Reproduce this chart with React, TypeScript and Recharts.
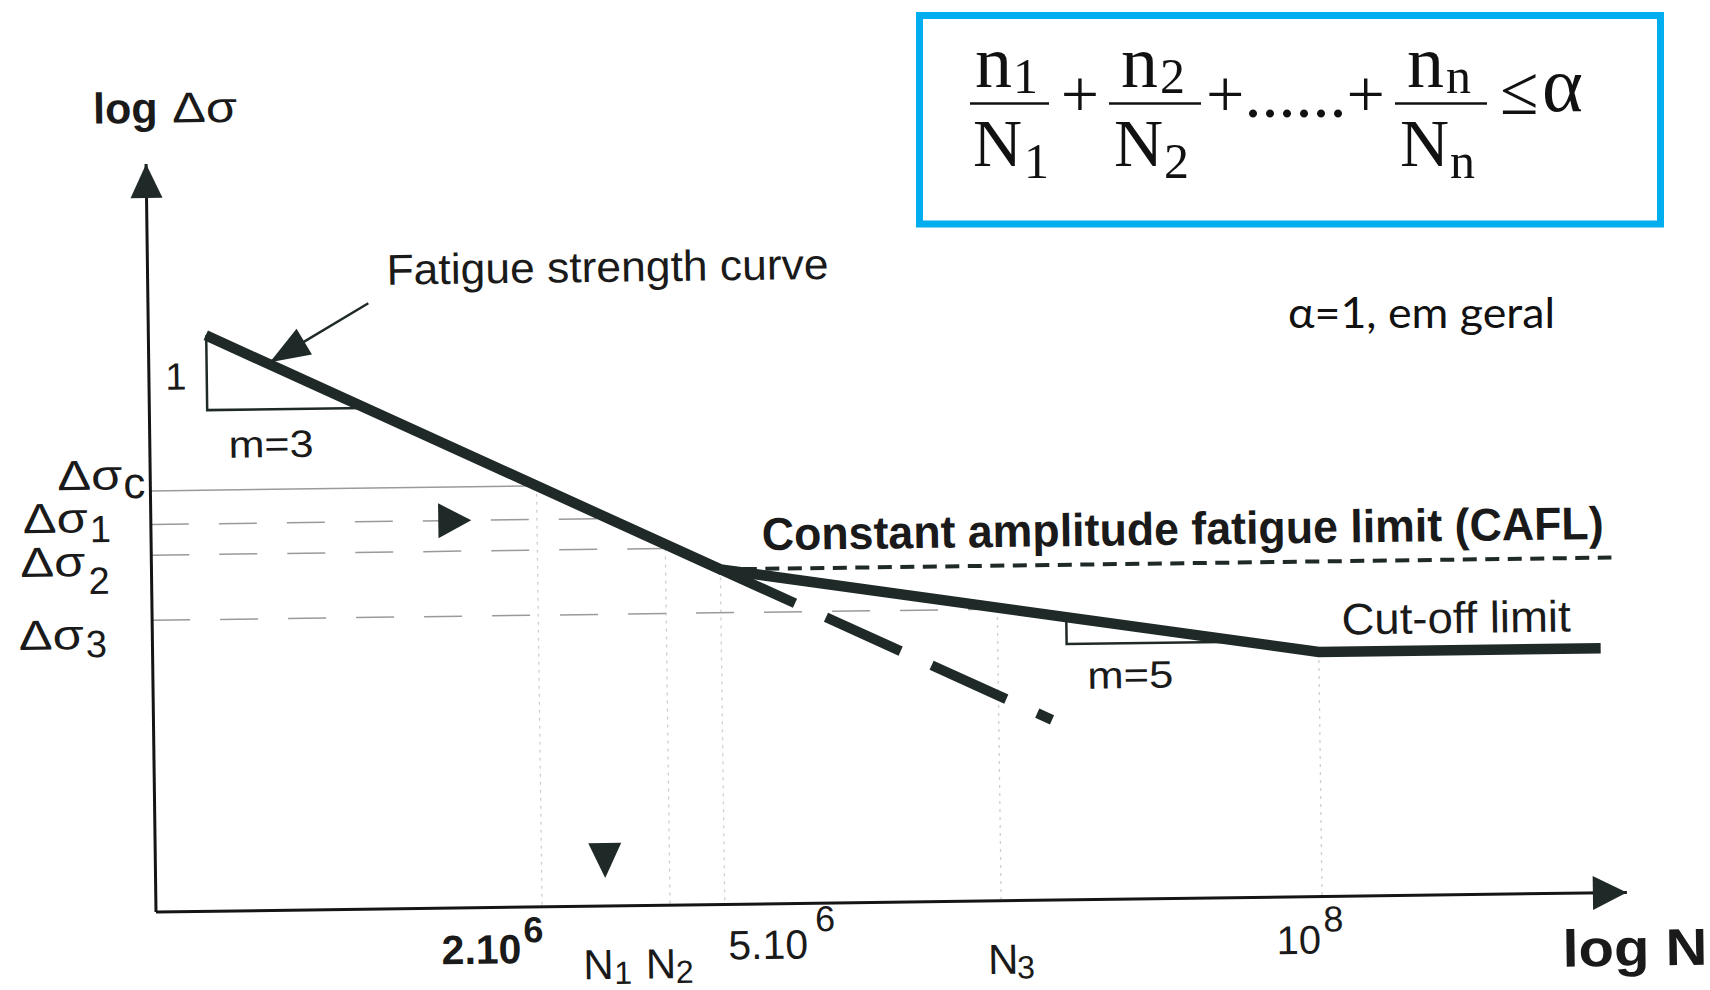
import { ComposedChart, Line, Scatter, XAxis, YAxis, ReferenceDot } from 'recharts';

const W = 1710;
const H = 990;
const INK = '#1f2a28';
const TXT = '#1a1a1a';
const GRID = '#9a9a9a';
const FAINT = '#cfcfcf';
const SANS = '"Liberation Sans", Arial, Helvetica, sans-serif';
const SERIF = '"Liberation Serif", "Times New Roman", serif';

// x: log10 N, y: schematic log Δσ position (0 = N axis, 100 = arrow tip)
const X_DOMAIN = [5.46, 8.664];
const Y_DOMAIN = [0, 100];
const MARGIN = { top: 164, right: 83, bottom: 0, left: 0 };
const Y_AXIS_W = 156;
const X_AXIS_H = 78;
const PX_X = (W - Y_AXIS_W - MARGIN.right) / (X_DOMAIN[1] - X_DOMAIN[0]);
const PX_Y = (H - MARGIN.top - X_AXIS_H) / (Y_DOMAIN[1] - Y_DOMAIN[0]);

// cycle counts
const N_D = 2e6;
const N_1 = 2.75e6;
const N_2 = 3.8e6;
const N_C = 5e6;
const N_3 = 2.0e7;
const N_L = 1e8;
const lg = Math.log10;

// fatigue strength curve: m=3 down to 5.10^6, m=5 to 10^8, then cut-off
const curveX = [5.585, lg(N_C), lg(N_L), 8.614];
const curveY = [77.0, 44.8, 32.7, 32.7];
// m=3 line continued past the knee
const extX = [lg(N_C), 7.417];
const extY = [44.8, 24.1];
// constant amplitude fatigue limit
const caflX = [lg(N_C), 8.64];
const caflY = [44.8, 44.8];

// stress ranges Δσc, Δσ1, Δσ2, Δσ3
const levelNames = ['c', '1', '2', '3'];
const levelY = [56.3, 51.8, 47.7, 39.0];
const levelEndX = [lg(N_D), lg(N_1), lg(N_2), lg(N_3)];

// faint vertical guides
const guideX = [lg(N_D), lg(N_2), lg(N_C), lg(N_3), lg(N_L)];
const guideTop = [56.3, 47.7, 44.8, 39.0, 32.7];

// slope triangles
const tri3X = [5.586, 5.586, 5.93];
const tri3Y = [77.0, 67.0, 67.0];
const tri5X = [7.451, 7.451, 7.79];
const tri5Y = [37.8, 34.2, 34.2];

// pointer to the curve
const pointerX = [5.94, 5.724];
const pointerY = [81.0, 73.3];

// triangle markers
const stepMarker = [{ x: 6.122, y: 51.8 }];
const nMarker = [{ x: lg(N_1), y: 6.1 }];

// axis ticks
const xTicks = [N_D, N_1, N_2, N_C, N_3, N_L].map(lg);
const xTickMain = ['2.10', 'N', 'N', '5.10', 'N', '10'];
const xTickExtra = ['6', '1', '2', '6', '3', '8'];

const pts = (xs: number[], ys: number[]) => xs.map((x, i) => ({ x, y: ys[i] }));

// label placement (pixels relative to tick)
const xTickLayout = [
  { mx: -101, my: 56, mf: 41, bold: true, sx: -19, sy: 35, sf: 36 },
  { mx: -23, my: 73, mf: 42, bold: false, sx: 8, sy: 78, sf: 32 },
  { mx: -25, my: 73, mf: 42, bold: false, sx: 5, sy: 78, sf: 32 },
  { mx: 3, my: 55, mf: 41, bold: false, sx: 90, sy: 28, sf: 36 },
  { mx: -14, my: 73, mf: 42, bold: false, sx: 15, sy: 78, sf: 32 },
  { mx: -46, my: 57, mf: 40, bold: false, sx: 1, sy: 35, sf: 36 },
];

const yTickLayout = [
  { mx: -93, my: -2, sx: -27, sy: 7, sf: 44 },
  { mx: -128, my: 7, sx: -61, sy: 17, sf: 38 },
  { mx: -131, my: 20, sx: -63, sy: 38, sf: 38 },
  { mx: -133.5, my: 28, sx: -66.5, sy: 36, sf: 38 },
];

const notes = [
  { text: 'Fatigue strength curve', x: 6.462, y: 83.45, size: 43, width: 442, bold: false },
  { text: '1', x: 5.519, y: 69.8, size: 38, width: 0, bold: false },
  { text: 'm=3', x: 5.724, y: 60.6, size: 38, width: 85, bold: false },
  { text: 'Constant amplitude fatigue limit (CAFL)', x: 7.707, y: 47.3, size: 46, width: 842, bold: true },
  { text: 'Cut-off limit', x: 8.3, y: 35.0, size: 44, width: 229, bold: false },
  { text: 'm=5', x: 7.589, y: 28.2, size: 38, width: 86, bold: false },
  { text: 'log N', x: 8.68, y: -9.8, size: 52, width: 145, bold: true },
];

function triPoints(cx: number, cy: number, angleDeg: number, len: number, half: number, tip: boolean) {
  const a = (angleDeg * Math.PI) / 180;
  const ux = Math.cos(a);
  const uy = Math.sin(a);
  const tx = tip ? cx : cx + (ux * len) / 2;
  const ty = tip ? cy : cy + (uy * len) / 2;
  const bx = tx - ux * len;
  const by = ty - uy * len;
  return `${tx},${ty} ${bx - uy * half},${by + ux * half} ${bx + uy * half},${by - ux * half}`;
}

const pointerAngle =
  (Math.atan2((pointerY[0] - pointerY[1]) * PX_Y, (pointerX[1] - pointerX[0]) * PX_X) * 180) / Math.PI;

function XTick(props: any) {
  const { x, y, payload } = props;
  const i = xTicks.findIndex((t) => Math.abs(t - payload.value) < 1e-9);
  if (i < 0) return <g />;
  const L = xTickLayout[i];
  return (
    <text fill={TXT} fontFamily={SANS} fontWeight={L.bold ? 700 : 400}>
      <tspan x={x + L.mx} y={y + L.my} fontSize={L.mf}>
        {xTickMain[i]}
      </tspan>
      <tspan x={x + L.sx} y={y + L.sy} fontSize={L.sf}>
        {xTickExtra[i]}
      </tspan>
    </text>
  );
}

function YTick(props: any) {
  const { x, y, payload } = props;
  const i = levelY.indexOf(payload.value);
  if (i < 0) return <g />;
  const L = yTickLayout[i];
  return (
    <text fill={TXT} fontFamily={SANS}>
      <tspan x={x + L.mx} y={y + L.my} fontSize={42} textLength={65} lengthAdjust="spacingAndGlyphs">
        Δσ
      </tspan>
      <tspan x={x + L.sx} y={y + L.sy} fontSize={L.sf}>
        {levelNames[i]}
      </tspan>
    </text>
  );
}

const thin = { dot: false, activeDot: false, isAnimationActive: false, legendType: 'none' as const };

export default function App() {
  return (
    <div style={{ position: 'relative', width: W, height: H, overflow: 'hidden', background: '#fff' }}>
      <style>{'body{margin:0;overflow:hidden}.recharts-surface{overflow:visible}'}</style>
      <div style={{ position: 'absolute', left: 0, top: 0, transform: 'rotate(-0.76deg)', transformOrigin: '156px 912px' }}>
        <ComposedChart width={W} height={H} margin={MARGIN}>
          <XAxis
            type="number"
            dataKey="x"
            domain={X_DOMAIN}
            ticks={xTicks}
            interval={0}
            tick={<XTick />}
            tickLine={false}
            tickSize={0}
            tickMargin={0}
            height={X_AXIS_H}
            axisLine={{ stroke: '#151515', strokeWidth: 3 }}
          />
          <YAxis
            type="number"
            dataKey="y"
            domain={Y_DOMAIN}
            ticks={levelY}
            interval={0}
            tick={<YTick />}
            tickLine={false}
            tickSize={0}
            tickMargin={0}
            width={Y_AXIS_W}
            axisLine={{ stroke: '#151515', strokeWidth: 3 }}
          />

          {guideX.map((gx, i) => (
            <Line key={'g' + i} {...thin} data={pts([gx, gx], [guideTop[i], 0])} dataKey="y" stroke={FAINT} strokeWidth={1.3} strokeDasharray="3 5" />
          ))}
          {levelY.map((ly, i) => (
            <Line
              key={'l' + i}
              {...thin}
              data={pts([X_DOMAIN[0], levelEndX[i]], [ly, ly])}
              dataKey="y"
              stroke={GRID}
              strokeWidth={1.5}
              strokeDasharray={i === 0 ? undefined : '38 30'}
            />
          ))}

          <Line {...thin} data={pts(tri3X, tri3Y)} dataKey="y" stroke={INK} strokeWidth={2.5} />
          <Line {...thin} data={pts(tri5X, tri5Y)} dataKey="y" stroke={INK} strokeWidth={2.5} />
          <Line {...thin} data={pts(pointerX, pointerY)} dataKey="y" stroke={INK} strokeWidth={2.5} />

          <Line {...thin} data={pts(caflX, caflY)} dataKey="y" stroke={INK} strokeWidth={4} strokeDasharray="14 8.5" />
          <Line {...thin} data={pts(extX, extY)} dataKey="y" stroke={INK} strokeWidth={10} strokeDasharray="82 34" />
          <Line {...thin} data={pts(curveX, curveY)} dataKey="y" stroke={INK} strokeWidth={10.5} strokeLinejoin="miter" />

          <Scatter
            data={[{ x: pointerX[1], y: pointerY[1] }]}
            isAnimationActive={false}
            shape={(p: any) => <polygon points={triPoints(p.cx, p.cy, pointerAngle, 40, 15, true)} fill={INK} />}
          />
          <Scatter
            data={[{ x: X_DOMAIN[1], y: 0 }]}
            isAnimationActive={false}
            shape={(p: any) => <polygon points={triPoints(p.cx, p.cy, 0, 34, 17, true)} fill={INK} />}
          />
          <Scatter
            data={[{ x: X_DOMAIN[0], y: Y_DOMAIN[1] }]}
            isAnimationActive={false}
            shape={(p: any) => <polygon points={triPoints(p.cx, p.cy, -90, 34, 16, true)} fill={INK} />}
          />
          <Scatter
            data={stepMarker}
            isAnimationActive={false}
            shape={(p: any) => <polygon points={triPoints(p.cx, p.cy, 0, 33, 17.5, false)} fill={INK} />}
          />
          <Scatter
            data={nMarker}
            isAnimationActive={false}
            shape={(p: any) => <polygon points={triPoints(p.cx, p.cy, 90, 35, 16.5, false)} fill={INK} />}
          />

          {notes.map((n, i) => (
            <ReferenceDot
              key={'n' + i}
              x={n.x}
              y={n.y}
              r={0}
              ifOverflow="visible"
              shape={(p: any) => (
                <text
                  x={p.cx}
                  y={p.cy}
                  textAnchor="middle"
                  fontFamily={SANS}
                  fontSize={n.size}
                  fontWeight={n.bold ? 700 : 400}
                  fill={TXT}
                  {...(n.width ? { textLength: n.width, lengthAdjust: 'spacingAndGlyphs' } : {})}
                >
                  {n.text}
                </text>
              )}
            />
          ))}
          <ReferenceDot
            x={5.346}
            y={105.5}
            r={0}
            ifOverflow="visible"
            shape={(p: any) => (
              <text fill={TXT} fontFamily={SANS} fontSize={43}>
                <tspan x={p.cx} y={p.cy} fontWeight={700}>
                  log
                </tspan>
                <tspan x={p.cx + 79} y={p.cy} textLength={65} lengthAdjust="spacingAndGlyphs">
                  Δσ
                </tspan>
              </text>
            )}
          />
        </ComposedChart>
      </div>

      <svg width={W} height={H} style={{ position: 'absolute', left: 0, top: 0, pointerEvents: 'none' }}>
        <rect x={919.5} y={15.5} width={741} height={208.5} fill="#fff" stroke="#00AEEF" strokeWidth={7} />
        <g stroke="#111" strokeWidth={2.5}>
          <line x1={970} y1={103.6} x2={1049} y2={103.6} />
          <line x1={1109} y1={103.6} x2={1201} y2={103.6} />
          <line x1={1395} y1={103.6} x2={1487} y2={103.6} />
        </g>
        <g fontFamily={SERIF} fill="#111">
          <text x={975} y={87} fontSize={74}>n</text>
          <text x={1013} y={93} fontSize={50}>1</text>
          <text x={973} y={166} fontSize={68}>N</text>
          <text x={1024} y={178} fontSize={50}>1</text>
          <text x={1080} y={117} fontSize={68} textAnchor="middle">+</text>
          <text x={1121} y={87} fontSize={74}>n</text>
          <text x={1160} y={93} fontSize={50}>2</text>
          <text x={1114} y={166} fontSize={68}>N</text>
          <text x={1164} y={178} fontSize={50}>2</text>
          <text x={1206} y={117} fontSize={68} textLength={179} lengthAdjust="spacingAndGlyphs">+......+</text>
          <text x={1407} y={87} fontSize={74}>n</text>
          <text x={1446} y={93} fontSize={50}>n</text>
          <text x={1400} y={166} fontSize={68}>N</text>
          <text x={1450} y={178} fontSize={50}>n</text>
          <text x={1500} y={114} fontSize={70}>≤</text>
          <text x={1542} y={111} fontSize={78}>α</text>
        </g>
        <text x={1288} y={328} fontFamily='Lato, "Open Sans", sans-serif' fontSize={42} fill="#111" textLength={267} lengthAdjust="spacingAndGlyphs">
          α=1, em geral
        </text>
      </svg>
    </div>
  );
}
